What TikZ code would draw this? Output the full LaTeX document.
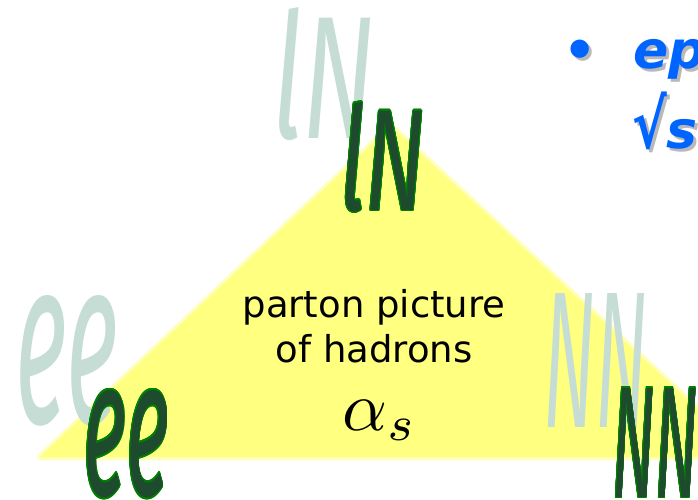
\documentclass[tikz,border=0pt]{standalone}
\usepackage{fontspec}
\setmainfont{DejaVu Sans}
\newfontfamily\letterfont{Fira Sans}
\usepackage{graphicx}
\usepackage{contour}
\usepackage{tikz}
\usetikzlibrary{positioning}
\usepackage{xcolor}
\definecolor{paleyellow}{RGB}{255,255,128}
\definecolor{mistgreen}{RGB}{197,221,212}
\definecolor{pinegreen}{RGB}{30,74,46}
\definecolor{leafgreen}{RGB}{0,128,0}
\definecolor{skyblue}{RGB}{0,100,255}
\definecolor{shadowgray}{RGB}{185,185,185}
\contourlength{1.4pt}
\tikzset{
    shadeword/.style={anchor=north west, inner sep=0pt, text=mistgreen, font=\letterfont\itshape\fontsize{140}{140}\selectfont},
    darkword/.style={anchor=north west, inner sep=0pt, text=pinegreen, font=\letterfont\itshape\fontsize{140}{140}\selectfont},
    labeltext/.style={anchor=base, inner sep=0pt, font=\fontsize{37}{44}\selectfont},
    bluetext/.style={anchor=base west, inner sep=0pt, text=skyblue, font=\bfseries\itshape\fontsize{52}{60}\selectfont},
    blueshadow/.style={bluetext, text=shadowgray}
}

\begin{document}
\begin{tikzpicture}[x=1pt, y=-1pt]
    \useasboundingbox (0,0) rectangle (698,500);
    \clip (0,0) rectangle (698,500);
    % the triangle
    \coordinate (apex) at (391,126);
    \coordinate (leftcorner) at (40,457);
    \coordinate (rightcorner) at (750,457);
    \draw[paleyellow!55, line width=6pt, line join=round] (apex) -- (leftcorner) -- (rightcorner) -- cycle;
    \fill[paleyellow] (apex) -- (leftcorner) -- (rightcorner) -- cycle;
    % pale copies
    \node[shadeword] (lnshade) at (272,7) {\resizebox{103pt}{131pt}{lN}};
    \node[shadeword] (eeshade) at (15,295) {\resizebox{103pt}{128pt}{ee}};
    \node[shadeword] (nnshade) at (543,293) {\resizebox{104pt}{134pt}{NN}};
    % corners
    \node[darkword] (lnword) at (340,102) {\resizebox{85pt}{108pt}{\contour{leafgreen}{lN}}};
    \node[darkword] (eeword) at (83,390) {\resizebox{86pt}{105pt}{\contour{leafgreen}{ee}}};
    \node[darkword] (nnword) at (612,388) {\resizebox{86pt}{109pt}{\contour{leafgreen}{NN}}};
    % inside
    \node[labeltext] (partonline) at (374,317) {parton picture};
    \node[labeltext] (hadronline) at (374,362) {of hadrons};
    \node[anchor=base, inner sep=0pt] (alphalabel) at (380,430) {\scalebox{7}{$\alpha_s$}};
    % top right
    \node[blueshadow] (bulletshadow) at (566,72) {•};
    \node[bluetext] (bulletmark) at (563,69) {•};
    \node[blueshadow] (epshadow) at (636,72) {ep};
    \node[bluetext] (epline) at (633,69) {ep};
    \node[blueshadow] (rootshadow) at (635,151) {\scalebox{1}[1.3]{√}s};
    \node[bluetext] (rootline) at (632,148) {\scalebox{1}[1.3]{√}s};
\end{tikzpicture}
\end{document}
